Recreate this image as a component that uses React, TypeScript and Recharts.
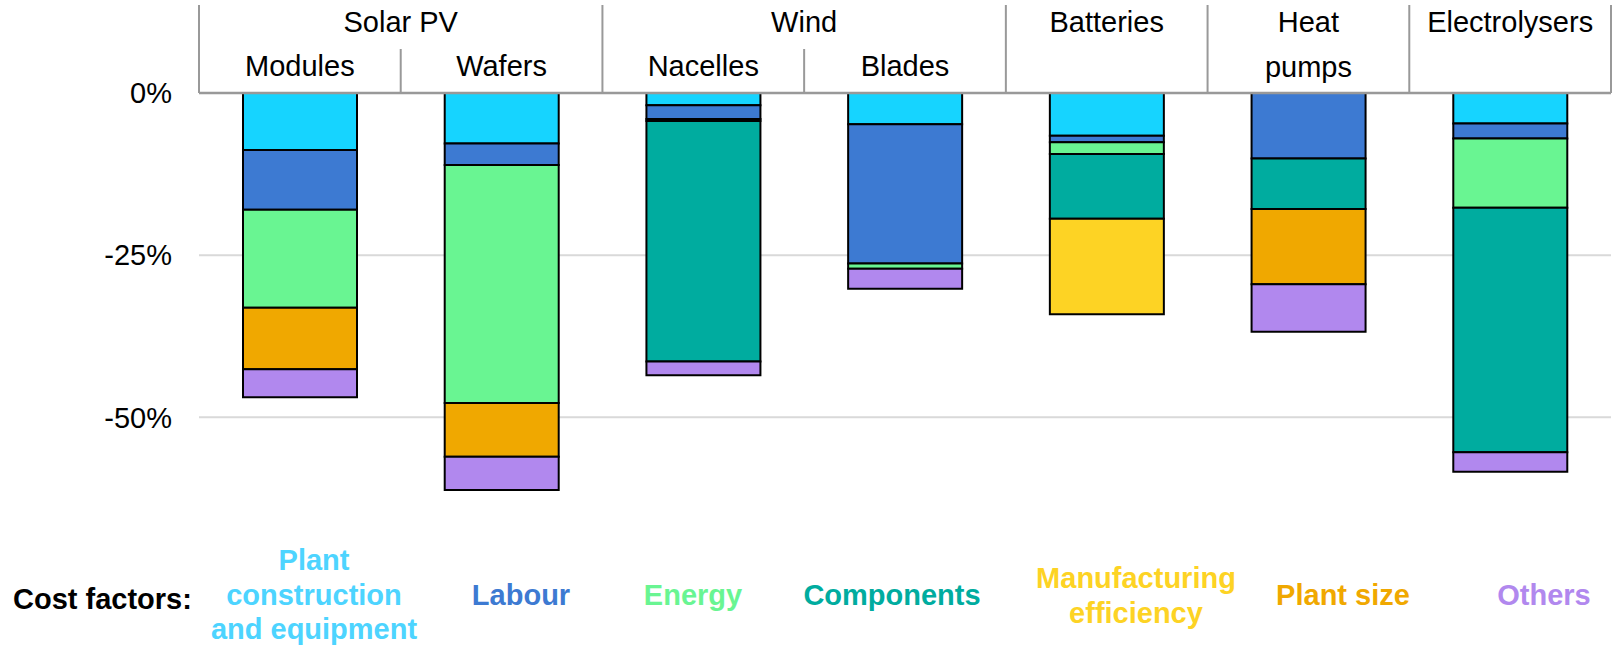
import React from 'react';
import { BarChart, Bar, XAxis, YAxis, CartesianGrid } from 'recharts';

// categories along the x axis (bottom header row)
const categories = ['Modules', 'Wafers', 'Nacelles', 'Blades', 'Batteries', 'Heat pumps', 'Electrolysers'];
const subLabels = ['Modules', 'Wafers', 'Nacelles', 'Blades', '', '', ''];

// top header row: technology groups
const groupLines = [['Solar PV'], ['Wind'], ['Batteries'], ['Heat', 'pumps'], ['Electrolysers']];
const groupSpans = [2, 2, 1, 1, 1];

// cost reduction by factor, % (negative = reduction)
const plantConstruction = [-8.8, -7.8, -1.9, -4.8, -6.6, 0, -4.7];
const labour = [-9.2, -3.3, -2.1, -21.5, -1.0, -10.1, -2.3];
const energy = [-15.1, -36.7, -0.3, -0.8, -1.8, 0, -10.7];
const components = [0, 0, -37.1, 0, -10.0, -7.8, -37.7];
const manufacturingEfficiency = [0, 0, 0, 0, -14.7, 0, 0];
const plantSize = [-9.5, -8.3, 0, 0, 0, -11.6, 0];
const others = [-4.3, -5.1, -2.1, -3.1, 0, -7.3, -3.0];

const yTicks = [0, -25, -50];
const gridValues = [-25, -50];

const series = [
  { key: 'plant', name: ['Plant', 'construction', 'and equipment'], color: '#16d4ff', text: '#4dd4ff', values: plantConstruction },
  { key: 'labour', name: ['Labour'], color: '#3d7ad2', text: '#3d7ad2', values: labour },
  { key: 'energy', name: ['Energy'], color: '#69f592', text: '#69f592', values: energy },
  { key: 'components', name: ['Components'], color: '#00ac9f', text: '#00ac9f', values: components },
  { key: 'mfg', name: ['Manufacturing', 'efficiency'], color: '#fdd324', text: '#fdd324', values: manufacturingEfficiency },
  { key: 'size', name: ['Plant size'], color: '#f0a800', text: '#f0a800', values: plantSize },
  { key: 'others', name: ['Others'], color: '#b188ee', text: '#b188ee', values: others },
];

const data = categories.map((name, i) => {
  const row: any = { name };
  series.forEach((s) => (row[s.key] = s.values[i]));
  return row;
});

const W = 1614;
const H = 645;
const MARGIN = { top: 5, right: 3, bottom: 98, left: 0 };
const Y_AXIS_W = 199;
const X_AXIS_H = 88;
const AXIS_Y = MARGIN.top + X_AXIS_H;
const BAND = (W - MARGIN.left - Y_AXIS_W - MARGIN.right) / categories.length;
const FONT = '"Liberation Sans", Arial, sans-serif';
const HEADER_LINE = '#999999';

// which group each category belongs to, and where each group starts
const groupStart: number[] = [];
const groupOf: number[] = [];
groupSpans.reduce((start, span, g) => {
  groupStart.push(start);
  for (let k = 0; k < span; k++) groupOf.push(g);
  return start + span;
}, 0);

const HeaderTick = (props: any) => {
  const { x, payload } = props;
  const i = categories.indexOf(payload.value);
  const left = x - BAND / 2;
  const g = groupOf[i];
  const first = groupStart[g] === i;
  const isLast = i === categories.length - 1;
  return (
    <g fontFamily={FONT} fontSize={29} fill="#000">
      <line x1={left} x2={left} y1={first ? 5 : 49} y2={AXIS_Y} stroke={HEADER_LINE} strokeWidth={2} />
      {isLast && <line x1={left + BAND} x2={left + BAND} y1={5} y2={AXIS_Y} stroke={HEADER_LINE} strokeWidth={2} />}
      {subLabels[i] && (
        <text x={x} y={76} textAnchor="middle">{subLabels[i]}</text>
      )}
      {first &&
        groupLines[g].map((line, k) => (
          <text key={k} x={left + (groupSpans[g] * BAND) / 2} y={32 + k * 45} textAnchor="middle">
            {line}
          </text>
        ))}
    </g>
  );
};

const legendX = [314, 521, 693, 892, 1136, 1343, 1544];

export default function App() {
  return (
    <div style={{ position: 'relative', width: W, height: H, fontFamily: FONT, background: '#fff' }}>
      <style>{'body{margin:0}'}</style>
      <BarChart width={W} height={H} data={data} margin={MARGIN}>
        <CartesianGrid
          vertical={false}
          horizontalValues={gridValues}
          stroke="#d9d9d9"
          strokeWidth={2}
        />
        <XAxis
          dataKey="name"
          orientation="top"
          height={X_AXIS_H}
          interval={0}
          tickLine={false}
          axisLine={{ stroke: HEADER_LINE, strokeWidth: 2.5 }}
          tick={<HeaderTick />}
        />
        <YAxis
          width={Y_AXIS_W}
          domain={[-70, 0]}
          ticks={yTicks}
          axisLine={false}
          tickLine={false}
          tickSize={6}
          tickMargin={21}
          tickFormatter={(v: number) => `${v}%`}
          tick={{ fontSize: 29, fill: '#000', fontFamily: FONT }}
        />
        {series.map((s) => (
          <Bar
            key={s.key}
            dataKey={s.key}
            stackId="a"
            fill={s.color}
            stroke="#000"
            strokeWidth={2}
            barSize={114}
            isAnimationActive={false}
          />
        ))}
      </BarChart>
      <div
        style={{
          position: 'absolute',
          left: 13,
          top: 599,
          transform: 'translateY(-50%)',
          fontSize: 29,
          fontWeight: 'bold',
          color: '#000',
          whiteSpace: 'nowrap',
        }}
      >
        Cost factors:
      </div>
      {series.map((s, i) => (
        <div
          key={s.key}
          style={{
            position: 'absolute',
            left: legendX[i],
            top: 595,
            transform: 'translate(-50%, -50%)',
            fontSize: 29,
            lineHeight: '34.5px',
            fontWeight: 'bold',
            color: s.text,
            textAlign: 'center',
            whiteSpace: 'nowrap',
          }}
        >
          {s.name.map((line, k) => (
            <div key={k}>{line}</div>
          ))}
        </div>
      ))}
    </div>
  );
}
